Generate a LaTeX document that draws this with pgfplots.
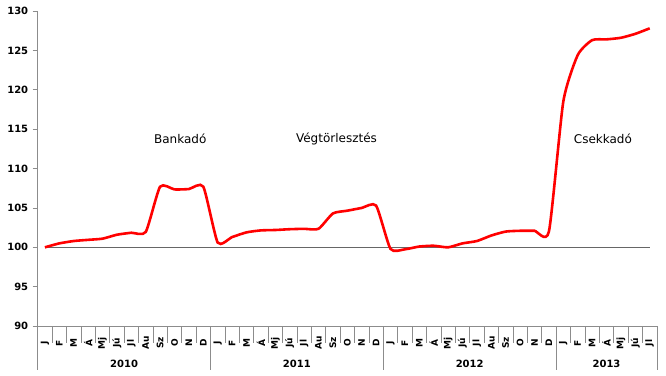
\documentclass[border=0pt]{standalone}
\usepackage{pgfplots}
\pgfplotsset{compat=1.18}
\usepackage{fontspec}
\setmainfont{DejaVu Sans}
\begin{document}
\begin{tikzpicture}
\begin{axis}[
  scale only axis, width=619pt, height=315pt,
  xmin=-0.5, xmax=42.5, ymin=90, ymax=130,
  axis x line*=bottom, axis y line*=left,
  axis line style={draw=black!45, line width=0.8pt, -},
  ytick={90,95,...,130},
  ytick style={draw=black!45, line width=0.8pt},
  major tick length=5pt,
  tick align=outside,
  yticklabel style={font=\bfseries\fontsize{10}{12}\selectfont, /pgf/number format/assume math mode=true, xshift=-1pt},
  xtick={0,...,42},
  xticklabels={J,F,M,Á,Mj,Jú,Jl,Au,Sz,O,N,D,J,F,M,Á,Mj,Jú,Jl,Au,Sz,O,N,D,J,F,M,Á,Mj,Jú,Jl,Au,Sz,O,N,D,J,F,M,Á,Mj,Jú,Jl},
  xtick style={draw=none},
  xticklabel style={font=\bfseries\fontsize{9}{10}\selectfont, yshift=-12pt, rotate=90, anchor=center},
  clip=false,
]
\addplot[black!60, line width=1pt] coordinates {(0,100) (42,100)};
\addplot[red, line width=2.6pt, smooth, tension=0.35] coordinates {
(0,100.0) (1,100.5) (2,100.8) (3,100.95) (4,101.1) (5,101.6) (6,101.85) (7,101.95) (8,107.7) (9,107.35) (10,107.4) (11,107.7)
(12,100.6) (13,101.3) (14,101.9) (15,102.15) (16,102.2) (17,102.3) (18,102.35) (19,102.35) (20,104.3) (21,104.65) (22,105.0) (23,105.3)
(24,99.8) (25,99.75) (26,100.1) (27,100.2) (28,100.0) (29,100.5) (30,100.8) (31,101.5) (32,102.0) (33,102.1) (34,102.1) (35,102.0)
(36,118.5) (37,124.4) (38,126.3) (39,126.4) (40,126.6) (41,127.1) (42,127.8)
};
\pgfplotsinvokeforeach{-0.5,0.5,...,42.5}{\draw[black!45, line width=0.8pt] (axis cs:#1,90) -- ([yshift=-17pt]axis cs:#1,90);}
\pgfplotsinvokeforeach{-0.5,11.5,23.5,35.5,42.5}{\draw[black!45, line width=0.8pt] (axis cs:#1,90) -- ([yshift=-44pt]axis cs:#1,90);}
\node[font=\bfseries\fontsize{10}{12}\selectfont] at ([yshift=-38pt]axis cs:5.5,90) {2010};
\node[font=\bfseries\fontsize{10}{12}\selectfont] at ([yshift=-38pt]axis cs:17.5,90) {2011};
\node[font=\bfseries\fontsize{10}{12}\selectfont] at ([yshift=-38pt]axis cs:29.5,90) {2012};
\node[font=\bfseries\fontsize{10}{12}\selectfont] at ([yshift=-38pt]axis cs:39,90) {2013};
\node[font=\fontsize{12}{14}\selectfont] at (axis cs:9.4,113.8) {Bankadó};
\node[font=\fontsize{12}{14}\selectfont] at (axis cs:20.25,113.8) {Végtörlesztés};
\node[font=\fontsize{12}{14}\selectfont] at (axis cs:38.75,113.8) {Csekkadó};
\path ([xshift=-37.7pt,yshift=-49pt]axis cs:-0.5,90) rectangle ([xshift=9.1pt,yshift=11pt]axis cs:42.5,130);
\end{axis}
\end{tikzpicture}
\end{document}
